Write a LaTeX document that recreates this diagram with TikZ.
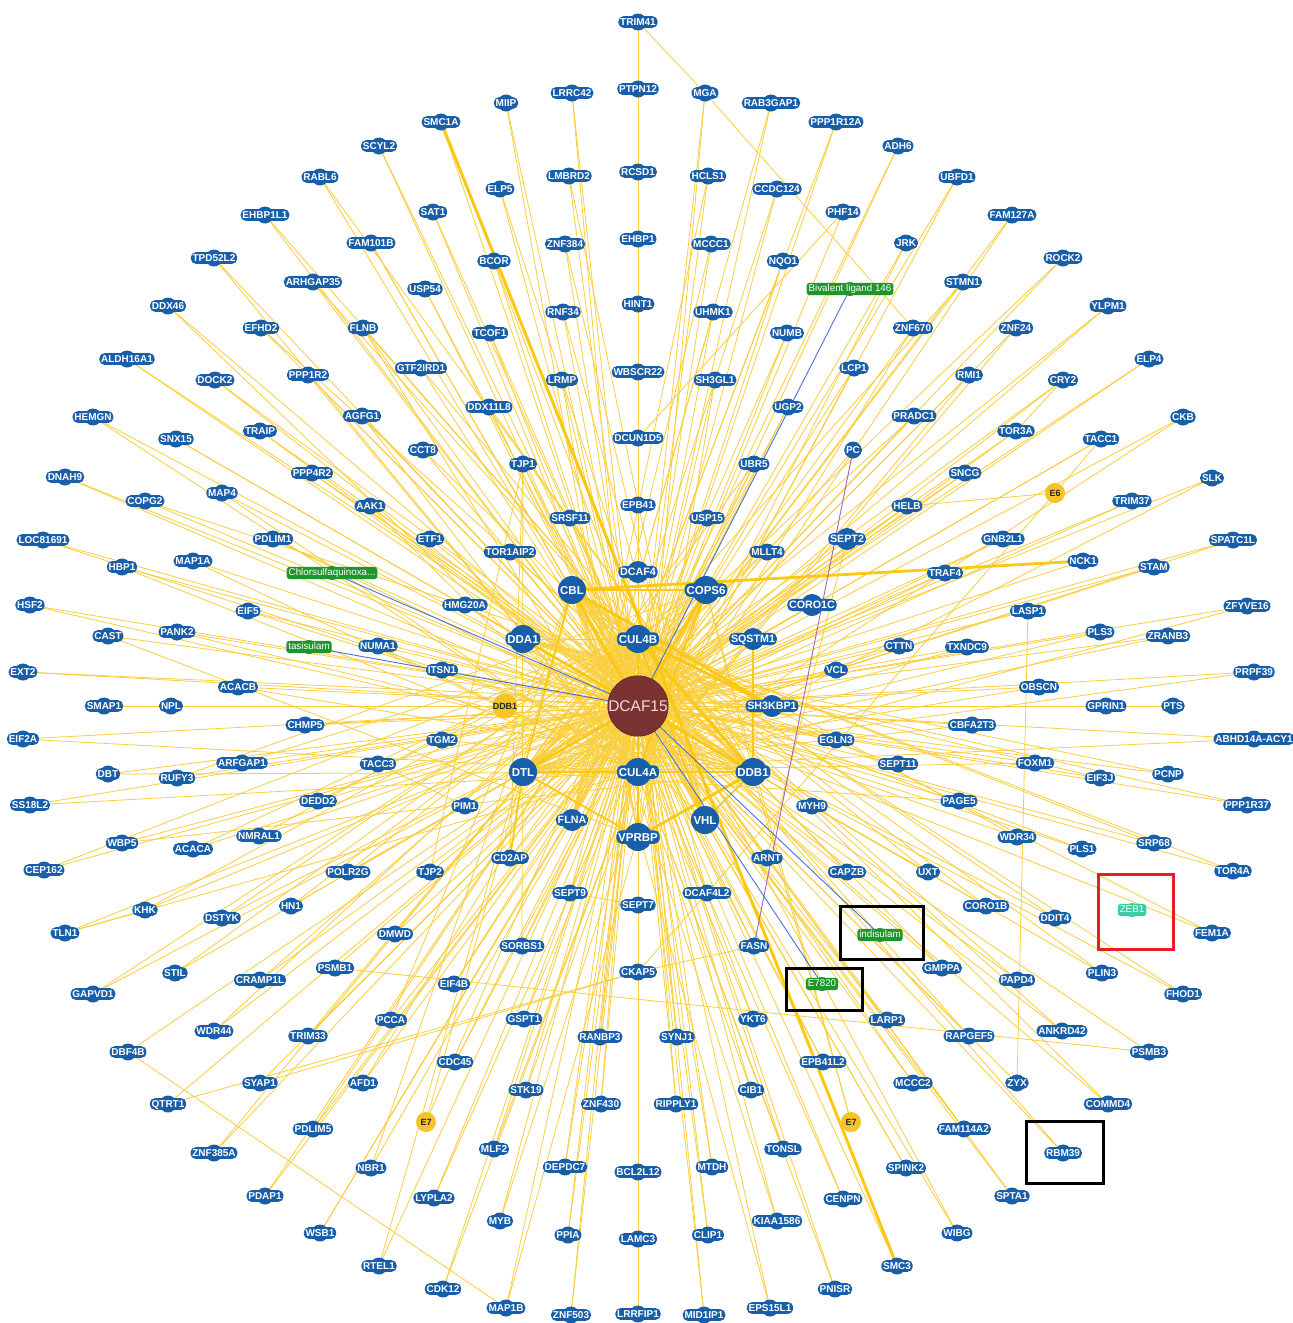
\documentclass[tikz,border=0pt]{standalone}
\usepackage{fontspec}
\setmainfont{Liberation Sans}
\pgfdeclarelayer{canvas}
\pgfdeclarelayer{edges}
\pgfdeclarelayer{bumps}
\pgfsetlayers{canvas,edges,bumps,main}

\definecolor{geneblue}{RGB}{24,94,168}
\definecolor{edgey}{RGB}{250,206,60}
\definecolor{edgeyt}{RGB}{252,200,20}
\definecolor{dcafred}{RGB}{122,50,50}
\definecolor{dcaftext}{RGB}{246,218,218}
\definecolor{drugg}{RGB}{30,150,45}
\definecolor{zebteal}{RGB}{60,205,165}
\definecolor{viry}{RGB}{246,196,40}
\definecolor{druglink}{RGB}{70,115,210}
\definecolor{pclink}{RGB}{165,100,190}
\definecolor{markred}{RGB}{230,30,40}

\newcommand{\genefont}{\fontsize{10}{10}\selectfont\bfseries}
\newcommand{\midfont}{\fontsize{10.7}{11}\selectfont\bfseries}
\newcommand{\hubfont}{\fontsize{11.5}{12}\selectfont\bfseries}
\newcommand{\drugfont}{\fontsize{9.8}{10}\selectfont}

% node with a round bump behind its label box
\newcommand{\anode}[6]{%
  \node[#1] (#4) at (#5) {#6};
  \begin{pgfonlayer}{bumps}\fill[#3] (#4.center) circle (#2);\end{pgfonlayer}}
\newcommand{\gnd}[3]{\anode{gene}{8.5pt}{geneblue}{#1}{#2}{#3}}
\newcommand{\mnd}[3]{\anode{mid}{11pt}{geneblue}{#1}{#2}{#3}}
\newcommand{\hnd}[3]{\anode{hub}{14pt}{geneblue}{#1}{#2}{#3}}
\newcommand{\dnd}[4]{\anode{drug,fill=#4}{7pt}{#4}{#1}{#2}{#3}}
\newcommand{\vnd}[4]{\node[virus,minimum size=#4] (#1) at (#2) {#3};}

\tikzset{
  gene/.style={rectangle, rounded corners=5pt, fill=geneblue, text=white,
    font=\genefont, inner xsep=1.8pt, inner ysep=2.2pt, text height=7.2pt, text depth=0pt},
  mid/.style={gene, font=\midfont, text height=7.7pt},
  hub/.style={gene, font=\hubfont, text height=8.3pt, inner ysep=2.6pt},
  drug/.style={rectangle, rounded corners=3pt, text=white, font=\drugfont,
    inner xsep=2pt, inner ysep=1.6pt, text height=7.2pt, text depth=1.9pt},
  virus/.style={circle, fill=viry, inner sep=0pt, text=black!85,
    font=\fontsize{9}{9}\selectfont\bfseries},
  thinlink/.style={draw=edgey, line width=0.8pt},
  midlink/.style={draw=edgeyt, line width=1.7pt},
  heavylink/.style={draw=edgeyt, line width=2.8pt},
  druglinkst/.style={draw=druglink, line width=0.9pt},
  markbox/.style={line width=3pt}
}

\begin{document}
\begin{tikzpicture}[x=1pt,y=-1pt]
\useasboundingbox (0,0) rectangle (1293,1323);
\begin{pgfonlayer}{canvas}
\fill[white] (0,0) rectangle (1293,1323);
\end{pgfonlayer}

% ---------- centre ----------
\node[circle, fill=dcafred, draw=dcafred!75!black, line width=0.6pt, minimum size=58pt,
  inner sep=0pt, text=dcaftext, font=\fontsize{15.5}{16}\selectfont] (DCAF15) at (638,706) {DCAF15};

% ---------- hubs ----------
\hnd{CUL4B}{638,639}{CUL4B}
\hnd{CUL4A}{638,772}{CUL4A}
\hnd{CBL}{572,590}{CBL}
\hnd{COPS6}{706,590}{COPS6}
\hnd{DDA1}{523,639}{DDA1}
\hnd{DTL}{523,772}{DTL}
\hnd{DDB1}{753,772}{DDB1}
\hnd{VHL}{705,820}{VHL}
\hnd{VPRBP}{638,837}{VPRBP}
\mnd{SQSTM1}{753,639}{SQSTM1}
\mnd{SH3KBP1}{772,706}{SH3KBP1}
\mnd{FLNA}{572,820}{FLNA}
\mnd{DCAF4}{638,572}{DCAF4}
\mnd{SEPT2}{847,539}{SEPT2}
\mnd{CORO1C}{812,605}{CORO1C}

% ---------- viral proteins ----------
\vnd{DDB1y}{505,706}{DDB1}{24pt}
\vnd{E6}{1055,493}{E6}{20pt}
\vnd{E7a}{426,1122}{E7}{20pt}
\vnd{E7b}{851,1122}{E7}{20pt}

% ---------- compounds ----------
\dnd{Biv}{850,289}{Bivalent ligand 146}{drugg}
\dnd{Chlor}{332,573}{Chlorsulfaquinoxa...}{drugg}
\dnd{tasi}{309,647}{tasisulam}{drugg}
\dnd{indi}{880,935}{indisulam}{drugg}
\dnd{E7820}{822,984}{E7820}{drugg}
\dnd{ZEB1}{1132,910}{ZEB1}{zebteal}

% ---------- interactors ----------
\gnd{TRIM41}{638,22}{TRIM41}
\gnd{MIIP}{506,103}{MIIP}
\gnd{LRRC42}{572,93}{LRRC42}
\gnd{PTPN12}{638,89}{PTPN12}
\gnd{MGA}{705,93}{MGA}
\gnd{RAB3GAP1}{771,103}{RAB3GAP1}
\gnd{PPP1R12A}{836,122}{PPP1R12A}
\gnd{SMC1A}{441,122}{SMC1A}
\gnd{SCYL2}{379,146}{SCYL2}
\gnd{ADH6}{898,146}{ADH6}
\gnd{RABL6}{320,177}{RABL6}
\gnd{LMBRD2}{569,176}{LMBRD2}
\gnd{RCSD1}{638,172}{RCSD1}
\gnd{HCLS1}{708,176}{HCLS1}
\gnd{UBFD1}{957,177}{UBFD1}
\gnd{ELP5}{500,189}{ELP5}
\gnd{CCDC124}{777,189}{CCDC124}
\gnd{SAT1}{433,212}{SAT1}
\gnd{PHF14}{843,212}{PHF14}
\gnd{EHBP1L1}{265,215}{EHBP1L1}
\gnd{FAM127A}{1012,215}{FAM127A}
\gnd{EHBP1}{638,239}{EHBP1}
\gnd{ZNF384}{565,244}{ZNF384}
\gnd{MCCC1}{711,244}{MCCC1}
\gnd{FAM101B}{371,243}{FAM101B}
\gnd{JRK}{906,243}{JRK}
\gnd{TPD52L2}{214,258}{TPD52L2}
\gnd{ROCK2}{1063,258}{ROCK2}
\gnd{BCOR}{494,261}{BCOR}
\gnd{NQO1}{783,261}{NQO1}
\gnd{ARHGAP35}{313,282}{ARHGAP35}
\gnd{STMN1}{963,282}{STMN1}
\gnd{USP54}{425,289}{USP54}
\gnd{HINT1}{638,304}{HINT1}
\gnd{DDX46}{168,306}{DDX46}
\gnd{YLPM1}{1108,306}{YLPM1}
\gnd{RNF34}{563,312}{RNF34}
\gnd{UHMK1}{713,312}{UHMK1}
\gnd{EFHD2}{261,328}{EFHD2}
\gnd{FLNB}{363,328}{FLNB}
\gnd{ZNF670}{913,328}{ZNF670}
\gnd{ZNF24}{1016,328}{ZNF24}
\gnd{TCOF1}{490,333}{TCOF1}
\gnd{NUMB}{787,333}{NUMB}
\gnd{ALDH16A1}{127,359}{ALDH16A1}
\gnd{ELP4}{1149,359}{ELP4}
\gnd{GTF2IRD1}{421,368}{GTF2IRD1}
\gnd{LCP1}{854,368}{LCP1}
\gnd{WBSCR22}{638,372}{WBSCR22}
\gnd{PPP1R2}{308,375}{PPP1R2}
\gnd{RMI1}{969,375}{RMI1}
\gnd{DOCK2}{215,380}{DOCK2}
\gnd{LRMP}{562,380}{LRMP}
\gnd{SH3GL1}{715,380}{SH3GL1}
\gnd{CRY2}{1063,380}{CRY2}
\gnd{DDX11L8}{489,407}{DDX11L8}
\gnd{UGP2}{788,407}{UGP2}
\gnd{AGFG1}{362,416}{AGFG1}
\gnd{PRADC1}{914,416}{PRADC1}
\gnd{HEMGN}{93,417}{HEMGN}
\gnd{CKB}{1183,417}{CKB}
\gnd{TRAIP}{260,431}{TRAIP}
\gnd{TOR3A}{1016,431}{TOR3A}
\gnd{DCUN1D5}{638,438}{DCUN1D5}
\gnd{SNX15}{176,439}{SNX15}
\gnd{TACC1}{1101,439}{TACC1}
\gnd{CCT8}{423,450}{CCT8}
\gnd{PC}{853,450}{PC}
\gnd{TJP1}{523,464}{TJP1}
\gnd{UBR5}{754,464}{UBR5}
\gnd{PPP4R2}{312,473}{PPP4R2}
\gnd{SNCG}{965,473}{SNCG}
\gnd{DNAH9}{65,477}{DNAH9}
\gnd{SLK}{1212,478}{SLK}
\gnd{MAP4}{222,493}{MAP4}
\gnd{COPG2}{145,501}{COPG2}
\gnd{TRIM37}{1132,501}{TRIM37}
\gnd{EPB41}{638,505}{EPB41}
\gnd{AAK1}{370,506}{AAK1}
\gnd{HELB}{907,506}{HELB}
\gnd{SRSF11}{570,518}{SRSF11}
\gnd{USP15}{707,518}{USP15}
\gnd{LOC81691}{43,540}{LOC81691}
\gnd{PDLIM1}{273,539}{PDLIM1}
\gnd{ETF1}{430,539}{ETF1}
\gnd{GNB2L1}{1003,539}{GNB2L1}
\gnd{SPATC1L}{1233,540}{SPATC1L}
\gnd{TOR1AIP2}{510,552}{TOR1AIP2}
\gnd{MLLT4}{767,552}{MLLT4}
\gnd{MAP1A}{193,561}{MAP1A}
\gnd{NCK1}{1083,561}{NCK1}
\gnd{HBP1}{122,567}{HBP1}
\gnd{STAM}{1154,567}{STAM}
\gnd{TRAF4}{945,573}{TRAF4}
\gnd{HSF2}{30,605}{HSF2}
\gnd{HMG20A}{465,605}{HMG20A}
\gnd{ZFYVE16}{1247,606}{ZFYVE16}
\gnd{EIF5}{248,611}{EIF5}
\gnd{LASP1}{1028,611}{LASP1}
\gnd{PANK2}{177,632}{PANK2}
\gnd{PLS3}{1100,632}{PLS3}
\gnd{CAST}{108,636}{CAST}
\gnd{ZRANB3}{1168,636}{ZRANB3}
\gnd{NUMA1}{378,646}{NUMA1}
\gnd{CTTN}{899,646}{CTTN}
\gnd{TXNDC9}{967,647}{TXNDC9}
\gnd{ITSN1}{442,670}{ITSN1}
\gnd{VCL}{836,670}{VCL}
\gnd{EXT2}{23,672}{EXT2}
\gnd{PRPF39}{1254,672}{PRPF39}
\gnd{ACACB}{238,687}{ACACB}
\gnd{OBSCN}{1039,687}{OBSCN}
\gnd{SMAP1}{104,706}{SMAP1}
\gnd{NPL}{171,706}{NPL}
\gnd{GPRIN1}{1106,706}{GPRIN1}
\gnd{PTS}{1173,706}{PTS}
\gnd{CHMP5}{305,725}{CHMP5}
\gnd{CBFA2T3}{972,725}{CBFA2T3}
\gnd{EIF2A}{23,739}{EIF2A}
\gnd{TGM2}{442,740}{TGM2}
\gnd{EGLN3}{836,740}{EGLN3}
\gnd{ABHD}{1254,739}{ABHD14A-ACY1}
\gnd{ARFGAP1}{242,763}{ARFGAP1}
\gnd{TACC3}{378,764}{TACC3}
\gnd{SEPT11}{898,764}{SEPT11}
\gnd{FOXM1}{1035,763}{FOXM1}
\gnd{DBT}{108,774}{DBT}
\gnd{RUFY3}{177,778}{RUFY3}
\gnd{EIF3J}{1100,778}{EIF3J}
\gnd{PCNP}{1168,774}{PCNP}
\gnd{DEDD2}{318,801}{DEDD2}
\gnd{PAGE5}{959,801}{PAGE5}
\gnd{SS18L2}{30,805}{SS18L2}
\gnd{PPP1R37}{1247,805}{PPP1R37}
\gnd{PIM1}{465,806}{PIM1}
\gnd{MYH9}{812,806}{MYH9}
\gnd{NMRAL1}{259,836}{NMRAL1}
\gnd{WDR34}{1017,837}{WDR34}
\gnd{WBP5}{122,843}{WBP5}
\gnd{SRP68}{1154,843}{SRP68}
\gnd{ACACA}{193,849}{ACACA}
\gnd{PLS1}{1082,849}{PLS1}
\gnd{CD2AP}{510,858}{CD2AP}
\gnd{ARNT}{767,858}{ARNT}
\gnd{CEP162}{44,870}{CEP162}
\gnd{POLR2G}{348,872}{POLR2G}
\gnd{TJP2}{430,872}{TJP2}
\gnd{CAPZB}{847,872}{CAPZB}
\gnd{UXT}{928,872}{UXT}
\gnd{TOR4A}{1233,871}{TOR4A}
\gnd{SEPT9}{570,893}{SEPT9}
\gnd{DCAF4L2}{707,893}{DCAF4L2}
\gnd{SEPT7}{638,905}{SEPT7}
\gnd{HN1}{291,906}{HN1}
\gnd{CORO1B}{986,906}{CORO1B}
\gnd{KHK}{145,910}{KHK}
\gnd{DSTYK}{222,918}{DSTYK}
\gnd{DDIT4}{1055,918}{DDIT4}
\gnd{TLN1}{65,933}{TLN1}
\gnd{DMWD}{395,934}{DMWD}
\gnd{FEM1A}{1212,933}{FEM1A}
\gnd{SORBS1}{522,946}{SORBS1}
\gnd{FASN}{754,946}{FASN}
\gnd{PSMB1}{335,968}{PSMB1}
\gnd{GMPPA}{942,968}{GMPPA}
\gnd{CKAP5}{638,972}{CKAP5}
\gnd{STIL}{175,973}{STIL}
\gnd{PLIN3}{1102,973}{PLIN3}
\gnd{CRAMP1L}{260,980}{CRAMP1L}
\gnd{PAPD4}{1017,980}{PAPD4}
\gnd{EIF4B}{454,984}{EIF4B}
\gnd{GAPVD1}{93,994}{GAPVD1}
\gnd{FHOD1}{1183,994}{FHOD1}
\gnd{GSPT1}{524,1019}{GSPT1}
\gnd{YKT6}{753,1019}{YKT6}
\gnd{PCCA}{391,1020}{PCCA}
\gnd{LARP1}{887,1020}{LARP1}
\gnd{WDR44}{214,1031}{WDR44}
\gnd{ANKRD42}{1062,1031}{ANKRD42}
\gnd{TRIM33}{308,1036}{TRIM33}
\gnd{RANBP3}{600,1037}{RANBP3}
\gnd{SYNJ1}{677,1037}{SYNJ1}
\gnd{RAPGEF5}{969,1036}{RAPGEF5}
\gnd{DBF4B}{128,1052}{DBF4B}
\gnd{PSMB3}{1149,1052}{PSMB3}
\gnd{CDC45}{455,1062}{CDC45}
\gnd{EPB41L2}{823,1062}{EPB41L2}
\gnd{SYAP1}{260,1083}{SYAP1}
\gnd{AFD1}{363,1083}{AFD1}
\gnd{MCCC2}{913,1083}{MCCC2}
\gnd{ZYX}{1017,1083}{ZYX}
\gnd{STK19}{526,1090}{STK19}
\gnd{CIB1}{751,1090}{CIB1}
\gnd{QTRT1}{168,1104}{QTRT1}
\gnd{ZNF430}{601,1104}{ZNF430}
\gnd{RIPPLY1}{676,1104}{RIPPLY1}
\gnd{COMMD4}{1108,1104}{COMMD4}
\gnd{PDLIM5}{313,1129}{PDLIM5}
\gnd{FAM114A2}{964,1129}{FAM114A2}
\gnd{MLF2}{494,1149}{MLF2}
\gnd{TONSL}{783,1149}{TONSL}
\gnd{ZNF385A}{214,1153}{ZNF385A}
\gnd{RBM39}{1063,1153}{RBM39}
\gnd{DEPDC7}{565,1167}{DEPDC7}
\gnd{MTDH}{712,1167}{MTDH}
\gnd{NBR1}{371,1168}{NBR1}
\gnd{SPINK2}{906,1168}{SPINK2}
\gnd{BCL2L12}{638,1172}{BCL2L12}
\gnd{PDAP1}{265,1196}{PDAP1}
\gnd{LYPLA2}{434,1198}{LYPLA2}
\gnd{SPTA1}{1012,1196}{SPTA1}
\gnd{CENPN}{843,1199}{CENPN}
\gnd{MYB}{500,1221}{MYB}
\gnd{KIAA1586}{777,1221}{KIAA1586}
\gnd{WSB1}{320,1233}{WSB1}
\gnd{WIBG}{957,1233}{WIBG}
\gnd{PPIA}{568,1235}{PPIA}
\gnd{CLIP1}{708,1235}{CLIP1}
\gnd{LAMC3}{638,1239}{LAMC3}
\gnd{RTEL1}{379,1266}{RTEL1}
\gnd{SMC3}{897,1266}{SMC3}
\gnd{CDK12}{443,1289}{CDK12}
\gnd{PNISR}{835,1289}{PNISR}
\gnd{MAP1B}{506,1308}{MAP1B}
\gnd{EPS15L1}{770,1308}{EPS15L1}
\gnd{ZNF503}{571,1315}{ZNF503}
\gnd{LRRFIP1}{638,1314}{LRRFIP1}
\gnd{MID1IP1}{704,1315}{MID1IP1}

% ---------- interactions ----------
\begin{pgfonlayer}{edges}
% every interactor to DCAF15
\foreach \a in {MIIP,LRRC42,PTPN12,MGA,RAB3GAP1,PPP1R12A,SMC1A,SCYL2,ADH6,RABL6,LMBRD2,RCSD1,HCLS1,UBFD1,ELP5,CCDC124,SAT1,PHF14,EHBP1L1,FAM127A,EHBP1,ZNF384,MCCC1,FAM101B,JRK,TPD52L2,ROCK2,BCOR,NQO1,ARHGAP35,STMN1,USP54,HINT1,DDX46,YLPM1,RNF34,UHMK1,EFHD2,FLNB,ZNF670,ZNF24,TCOF1,NUMB,ALDH16A1,ELP4,GTF2IRD1,LCP1,WBSCR22,PPP1R2,RMI1,DOCK2,LRMP,SH3GL1,CRY2,DDX11L8,UGP2,AGFG1,PRADC1,HEMGN,CKB,TRAIP,TOR3A,DCUN1D5,SNX15,TACC1,CCT8,PC,TJP1,UBR5,PPP4R2,SNCG,DNAH9,SLK,MAP4,COPG2,TRIM37,EPB41,AAK1,HELB,SRSF11,USP15,LOC81691,PDLIM1,ETF1,SEPT2,GNB2L1,SPATC1L,TOR1AIP2,MLLT4,MAP1A,NCK1,HBP1,STAM,DCAF4,TRAF4,HSF2,HMG20A,CORO1C,ZFYVE16,EIF5,LASP1,PANK2,PLS3,CAST,ZRANB3,SQSTM1,NUMA1,CTTN,TXNDC9,ITSN1,VCL,EXT2,PRPF39,ACACB,OBSCN,SMAP1,NPL,DDB1y,SH3KBP1,GPRIN1,PTS,CHMP5,CBFA2T3,EIF2A,TGM2,EGLN3,ABHD,ARFGAP1,TACC3,SEPT11,FOXM1,DBT,RUFY3,EIF3J,PCNP,DEDD2,PAGE5,SS18L2,PPP1R37,PIM1,MYH9,FLNA,VHL,NMRAL1,WDR34,WBP5,SRP68,ACACA,PLS1,CD2AP,ARNT,CEP162,POLR2G,TJP2,CAPZB,UXT,TOR4A,SEPT9,DCAF4L2,SEPT7,HN1,CORO1B,KHK,DSTYK,DDIT4,TLN1,DMWD,FEM1A,SORBS1,FASN,PSMB1,GMPPA,CKAP5,STIL,PLIN3,CRAMP1L,PAPD4,EIF4B,GAPVD1,FHOD1,GSPT1,YKT6,PCCA,LARP1,WDR44,ANKRD42,TRIM33,RANBP3,SYNJ1,RAPGEF5,DBF4B,PSMB3,CDC45,EPB41L2,SYAP1,AFD1,MCCC2,ZYX,STK19,CIB1,QTRT1,ZNF430,RIPPLY1,COMMD4,PDLIM5,FAM114A2,MLF2,TONSL,ZNF385A,RBM39,DEPDC7,MTDH,NBR1,SPINK2,BCL2L12,PDAP1,LYPLA2,SPTA1,CENPN,MYB,KIAA1586,WSB1,WIBG,PPIA,CLIP1,LAMC3,RTEL1,SMC3,CDK12,PNISR,MAP1B,EPS15L1,ZNF503,LRRFIP1,MID1IP1}
  \draw[thinlink] (\a.center) -- (DCAF15.center);

% further interactions
\foreach \a/\b in {HEMGN/CUL4A,DNAH9/DDB1,COPG2/SH3KBP1,LOC81691/DDB1,HBP1/CUL4A,HSF2/DDB1,CAST/VPRBP,EXT2/SH3KBP1,EIF2A/CUL4A,DBT/DDB1,SS18L2/CUL4A,WBP5/DDB1,CEP162/CUL4B,TLN1/CUL4A,KHK/CUL4B,GAPVD1/CUL4B,ALDH16A1/DDB1,DDX46/VHL,TPD52L2/CUL4A,EHBP1L1/DDB1,RABL6/DDB1,SCYL2/VHL,ARHGAP35/DDB1,FLNB/CUL4A,FLNB/DDB1,EFHD2/DDB1,PPP1R2/CUL4A,DOCK2/DDB1,TRAIP/DDB1,AGFG1/CUL4A,SNX15/DDB1,MAP4/CUL4A,PPP4R2/DDB1,AAK1/CUL4A,PDLIM1/DDB1,MAP1A/CUL4A,EIF5/DDB1,PANK2/DDB1,NUMA1/CUL4A,ACACB/DDB1,CHMP5/SH3KBP1,ARFGAP1/CUL4B,RUFY3/COPS6,DEDD2/CUL4B,NMRAL1/COPS6,ACACA/CUL4B,POLR2G/CUL4B,DSTYK/COPS6,HN1/CUL4B,STIL/CUL4B,CRAMP1L/COPS6,WDR44/CUL4B,TRIM33/CUL4B,PDLIM5/CUL4B,ZNF385A/CUL4B,PDAP1/CUL4B,WSB1/COPS6,RTEL1/CBL,NBR1/CBL,AFD1/CUL4B,PCCA/CBL,DMWD/CUL4B,QTRT1/CKAP5,SYAP1/CKAP5,TLN1/KHK,DBF4B/MAP1B,PSMB1/PSMB3,CCT8/DDB1,GTF2IRD1/DDB1,TCOF1/VHL,DDX11L8/DDB1,USP54/VHL,SAT1/VHL,FAM101B/VHL,ELP5/VHL,BCOR/VHL,RNF34/VHL,LMBRD2/VHL,ZNF384/VHL,LRMP/VPRBP,MIIP/VPRBP,LRRC42/VPRBP,PTPN12/VPRBP,MGA/VPRBP,RAB3GAP1/FLNA,PPP1R12A/FLNA,HCLS1/FLNA,CCDC124/FLNA,MCCC1/FLNA,NQO1/FLNA,UHMK1/FLNA,NUMB/FLNA,SH3GL1/VPRBP,UGP2/FLNA,TJP1/VHL,UBR5/FLNA,PHF14/DCUN1D5,TRIM41/PTPN12,TRIM41/MGA,MGA/ZNF670,
  ELP4/DTL,CKB/CUL4A,SLK/CUL4A,TRIM37/DTL,SPATC1L/DTL,STAM/DTL,ZFYVE16/CUL4A,ZRANB3/DTL,PLS3/DTL,PRPF39/DTL,ABHD/DTL,PCNP/DDA1,EIF3J/DDA1,PPP1R37/DDA1,SRP68/CUL4B,TOR4A/CUL4B,FEM1A/CUL4B,FHOD1/CUL4B,COMMD4/CUL4B,ROCK2/DTL,YLPM1/DTL,ZNF24/CUL4A,RMI1/CUL4A,CRY2/DTL,CRY2/TOR3A,TOR3A/DTL,TACC1/DTL,FAM127A/CUL4A,UBFD1/CUL4A,STMN1/DTL,JRK/CUL4A,ADH6/FLNA,ZNF670/CUL4A,PRADC1/DTL,LCP1/CUL4A,SNCG/DTL,HELB/DTL,GNB2L1/DTL,TRAF4/DTL,CTTN/DTL,TXNDC9/DTL,OBSCN/DTL,CBFA2T3/DTL,FOXM1/DTL,SEPT11/DDA1,PAGE5/DTL,WDR34/CBL,PLS1/DDA1,UXT/CBL,CORO1B/CBL,DDIT4/CBL,GMPPA/CBL,PAPD4/CBL,PLIN3/CBL,LARP1/CBL,ANKRD42/CBL,RAPGEF5/CBL,MCCC2/CBL,ZYX/LASP1,FAM114A2/CBL,SPINK2/CBL,SPTA1/CBL,WIBG/CUL4B,E6/TACC1,E6/HELB,E6/DCAF4L2,
  SEPT9/CUL4B,SEPT9/SEPT7,DCAF4L2/CUL4B,SORBS1/COPS6,FASN/CBL,CKAP5/DCAF4L2,CKAP5/FASN,EIF4B/COPS6,GSPT1/COPS6,YKT6/CBL,RANBP3/CUL4B,SYNJ1/CUL4B,CDC45/COPS6,EPB41L2/CBL,STK19/COPS6,CIB1/CBL,ZNF430/CUL4B,RIPPLY1/CUL4B,MLF2/COPS6,TONSL/CBL,DEPDC7/CUL4B,MTDH/CUL4B,LYPLA2/COPS6,CENPN/CBL,MYB/COPS6,KIAA1586/CBL,PPIA/CUL4B,CLIP1/CUL4B,CDK12/COPS6,PNISR/CBL,MAP1B/COPS6,EPS15L1/CBL,ZNF503/CUL4B,MID1IP1/CUL4B,RBM39/CBL,E7a/DTL,E7a/CUL4B,E7b/DDB1,E7b/COPS6,
  CBL/CUL4A,CBL/DDB1,COPS6/DTL,COPS6/DDB1,DDA1/CUL4A,DDA1/CUL4B,CUL4B/CUL4A,CUL4B/DTL,VHL/DDB1,VPRBP/CUL4A,FLNA/CUL4B,SQSTM1/DTL,SQSTM1/CUL4A,SH3KBP1/DDA1,DCAF4/CUL4A,DCAF4/DDB1,TJP2/TJP1,TJP1/CD2AP,PIM1/TACC3,SEPT2/ARNT,TGM2/DDB1,ITSN1/DDB1,HMG20A/DDB1,TOR1AIP2/DDB1,MLLT4/DTL,USP15/DTL,SRSF11/VHL,EPB41/CUL4A,UBR5/DTL,CORO1C/DTL,VCL/DTL,EGLN3/DDA1,MYH9/DDA1,CAPZB/CBL,ARNT/CBL,CD2AP/COPS6,SEPT7/CUL4B,SORBS1/TJP1}
  \draw[thinlink] (\a.center) -- (\b.center);

\foreach \a/\b in {DTL/CBL,CBL/COPS6,COPS6/CUL4A,DDA1/DDB1,VHL/CUL4B,VPRBP/CUL4B,VPRBP/DTL,DTL/CD2AP,DDB1/SQSTM1,DDB1/VHL}
  \draw[midlink] (\a.center) -- (\b.center);

\foreach \a/\b in {CBL/SH3KBP1,CUL4B/SH3KBP1,CUL4B/DDB1,DTL/CUL4A,CUL4A/DDB1,VPRBP/DDB1,CBL/NCK1,DCAF15/CUL4B,DCAF15/CUL4A,DCAF15/DDB1,DCAF15/DTL,DCAF15/CBL,DCAF15/VPRBP,DCAF15/COPS6,DCAF15/DDA1}
  \draw[heavylink] (\a.center) -- (\b.center);
\draw[heavylink, line width=3pt] (SMC1A.center) -- (SMC3.center);

% compound and viral links
\foreach \a in {Biv,Chlor,tasi,indi,E7820}
  \draw[druglinkst] (\a.center) -- (DCAF15.center);
\draw[draw=pclink, line width=0.9pt] (PC.center) -- (FASN.center);
\end{pgfonlayer}

% ---------- highlight frames ----------
\draw[markbox, black] (840,906) rectangle (923,959);
\draw[markbox, black] (786,968) rectangle (862,1010);
\draw[markbox, black] (1026,1121) rectangle (1103,1183);
\draw[markbox, markred] (1098,874) rectangle (1173,949);
\end{tikzpicture}
\end{document}
